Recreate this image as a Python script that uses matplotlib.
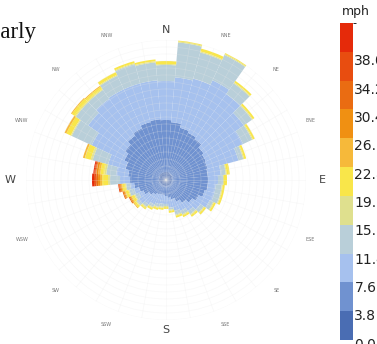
import numpy as np
import matplotlib.pyplot as plt
from matplotlib.colors import ListedColormap, BoundaryNorm
import matplotlib.transforms as mtransforms
import matplotlib as mpl

# direction bins (deg, clockwise from N), 10 deg wide
directions = np.arange(0, 360, 10)

# speed bins (mph) and their colours
speed_edges = [0.0, 3.8, 7.6, 11.4, 15.2, 19.0, 22.8, 26.6, 30.4, 34.2, 38.0, 41.8]
colors = ['#4a6db3', '#7092d0', '#a6c1ee', '#b9cfd9', '#dfe08e', '#f9e64a',
          '#f6b93a', '#f09012', '#ea6c12', '#e84d10', '#e52a0a']

# cumulative frequency (radius) at the top of each speed bin, per direction
cum_0_38 = [8, 8, 8, 7, 7, 7, 7, 6, 6, 6, 6, 6, 6, 6, 6, 6, 6, 6,
            6, 6, 6, 6, 6, 6, 6, 7, 7, 7, 7, 7, 7, 8, 8, 8, 8, 8]
cum_38_76 = [60, 58, 54, 52, 50, 46, 44, 43, 42, 42, 42, 40, 36, 32, 28, 24, 20, 18,
             16, 15, 15, 16, 18, 21, 25, 28, 32, 36, 38, 42, 46, 50, 54, 57, 60, 61]
cum_76_114 = [99, 103, 105, 110, 105, 95, 85, 75, 55, 52, 50, 50, 48, 42, 38, 34, 32, 28,
              24, 24, 25, 27, 30, 33, 30, 33, 36, 46, 50, 60, 82, 95, 99, 100, 100, 100]
cum_114_152 = [115, 138, 132, 138, 118, 105, 95, 80, 60, 57, 56, 56, 52, 46, 42, 38, 36, 30,
               26, 27, 28, 30, 33, 36, 34, 38, 40, 56, 60, 76, 104, 110, 110, 115, 120, 118]
cum_152_19 = [116, 139, 133, 139, 119, 106, 96, 81, 61, 58, 57, 57, 53, 47, 43, 39, 37, 31,
              27, 28, 29, 31, 34, 37, 35, 39, 41, 58, 62, 78, 105, 111, 111, 116, 121, 119]
cum_19_228 = [119, 142, 136, 141, 121, 108, 98, 83, 64, 61, 59, 59, 55, 49, 45, 41, 39, 33,
              29, 30, 31, 33, 36, 39, 38, 42, 44, 64, 66, 84, 110, 115, 114, 119, 123, 121]
cum_228_266 = [119, 142, 136, 141, 121, 108, 98, 83, 64, 61, 59, 59, 55, 49, 45, 41, 39, 33,
               29, 30, 31, 33, 36, 40, 39, 43, 45, 66, 68, 86, 112, 116, 115, 119, 123, 121]
cum_266_304 = [119, 142, 136, 141, 121, 108, 98, 83, 64, 61, 59, 59, 55, 49, 45, 41, 39, 33,
               29, 30, 31, 33, 36, 40, 40, 44, 46, 68, 70, 86, 112, 116, 115, 119, 123, 121]
cum_304_342 = [119, 142, 136, 141, 121, 108, 98, 83, 64, 61, 59, 59, 55, 49, 45, 41, 39, 33,
               29, 30, 31, 33, 36, 40, 41, 45, 47, 70, 71, 86, 112, 116, 115, 119, 123, 121]
cum_342_38 = [119, 142, 136, 141, 121, 108, 98, 83, 64, 61, 59, 59, 55, 49, 45, 41, 39, 33,
              29, 30, 31, 33, 36, 40, 41, 45, 48, 72, 72, 86, 112, 116, 115, 119, 123, 121]
cum_38_up = [119, 142, 136, 141, 121, 108, 98, 83, 64, 61, 59, 59, 55, 49, 45, 41, 39, 33,
             29, 30, 31, 33, 36, 40, 41, 45, 48, 74, 73, 86, 112, 116, 115, 119, 123, 121]

layers = [cum_0_38, cum_38_76, cum_76_114, cum_114_152, cum_152_19, cum_19_228,
          cum_228_266, cum_266_304, cum_304_342, cum_342_38, cum_38_up]

compass = ['N', 'NNE', 'NE', 'ENE', 'E', 'ESE', 'SE', 'SSE',
           'S', 'SSW', 'SW', 'WSW', 'W', 'WNW', 'NW', 'NNW']

fig = plt.figure(figsize=(3.77, 3.44), dpi=100)
ax = fig.add_axes([0.069, 0.0698, 0.7427, 0.814], projection='polar')
ax.set_theta_zero_location('N')
ax.set_theta_direction(-1)

theta = np.deg2rad(directions)
width = np.deg2rad(10)
bottom = np.zeros(len(directions))
for cum, c in zip(layers, colors):
    top = np.array(cum, dtype=float)
    ax.bar(theta, top - bottom, width=width, bottom=bottom, color=c,
           edgecolor='none', linewidth=0, zorder=2)
    bottom = top

ax.set_ylim(0, 140)
ax.set_yticks(np.arange(7, 141, 7))
ax.set_yticklabels([])
ax.set_xticks(np.deg2rad(np.arange(0, 360, 10)))
ax.set_xticklabels([])
ax.tick_params(length=0)
ax.grid(True, color='#e8e8e8', linewidth=0.5, alpha=0.3, zorder=3)
ax.set_axisbelow(False)
ax.spines['polar'].set_visible(False)

for i, lab in enumerate(compass):
    ang = np.deg2rad(i * 22.5)
    if len(lab) == 1:
        rr = 156 if lab in ('E', 'W') else 150
        ax.text(ang, rr, lab, ha='center', va='center', fontsize=8,
                color='#444444', clip_on=False)
    else:
        ax.text(ang, 156, lab, ha='center', va='center', fontsize=3.5,
                color='#777777', clip_on=False)

# colour bar
cax = fig.add_axes([0.9019, 0.0116, 0.0345, 0.9215])
cmap = ListedColormap(colors)
norm = BoundaryNorm(speed_edges, cmap.N)
cb = mpl.colorbar.ColorbarBase(cax, cmap=cmap, norm=norm, boundaries=speed_edges,
                               ticks=speed_edges[:-1])
cb.outline.set_visible(False)
cb.set_ticklabels(['%.1f' % v for v in speed_edges[:-1]])
cax.tick_params(length=0, labelsize=10, pad=1, labelcolor='#222222')
for i, t in enumerate(cax.get_yticklabels()):
    shift = mtransforms.ScaledTranslation(0, -(3 + 0.5 * i) / 100, fig.dpi_scale_trans)
    t.set_transform(t.get_transform() + shift)
fig.text(0.906, 0.968, 'mph', fontsize=9, color='#222222', va='center')

fig.text(37 / 377, 1 - 38 / 344, 'Yearly', fontsize=16.5, family='Liberation Serif',
         ha='right', va='baseline', color='#111111')

fig.savefig('out.png', dpi=100)
